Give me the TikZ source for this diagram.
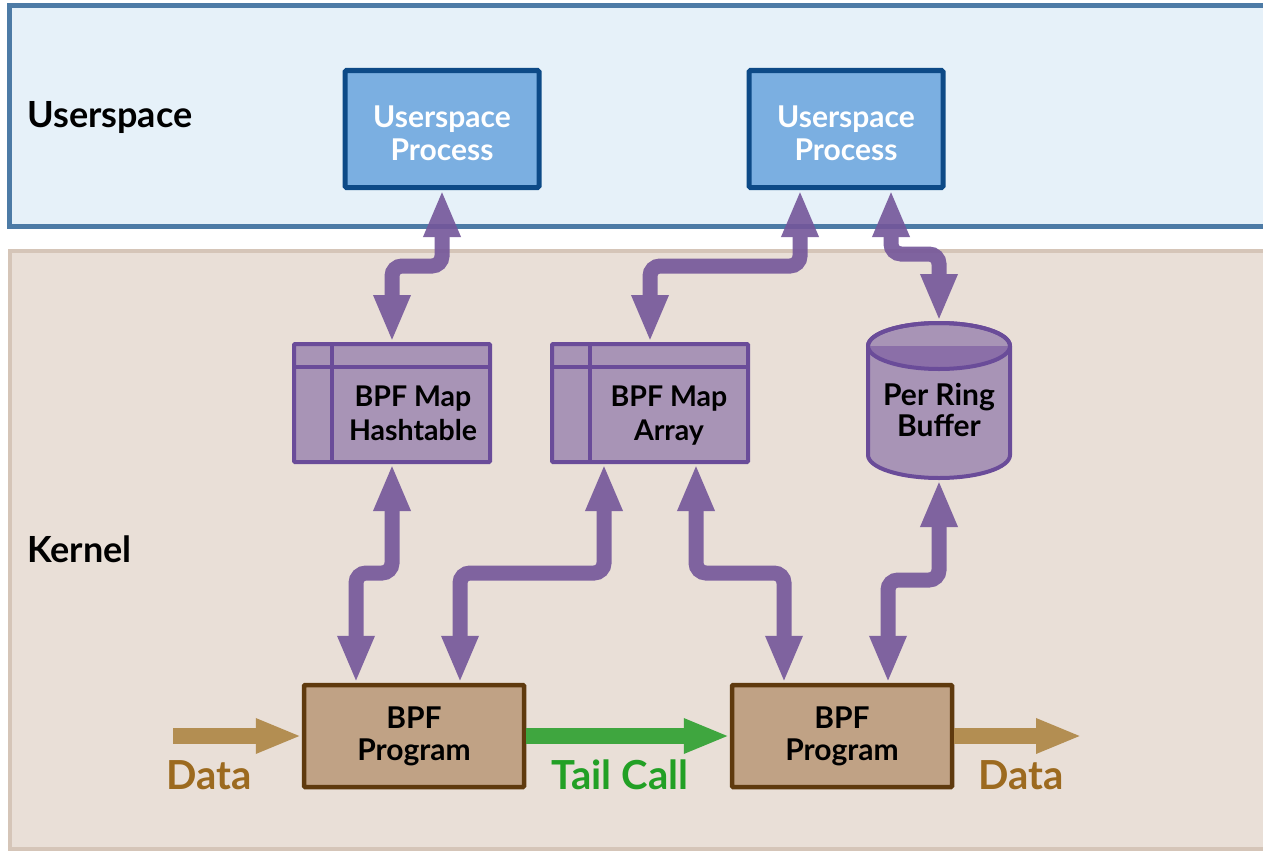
\documentclass[tikz,border=0pt]{standalone}
\usepackage{fontspec}
\setmainfont{Lato}
\usetikzlibrary{arrows.meta}
\definecolor{uspfill}{HTML}{E6F1F9}
\definecolor{uspline}{HTML}{4D7BA6}
\definecolor{kerfill}{HTML}{E9DFD7}
\definecolor{kerline}{HTML}{D5C5B8}
\definecolor{ubfill}{HTML}{7BAFE1}
\definecolor{ubline}{HTML}{0D4A87}
\definecolor{mapfill}{HTML}{A894B6}
\definecolor{mapline}{HTML}{6A4C99}
\definecolor{cyldark}{HTML}{8B6FA8}
\definecolor{parrowc}{HTML}{74569A}
\definecolor{progfill}{HTML}{C0A285}
\definecolor{progline}{HTML}{5F3A0E}
\definecolor{dataarr}{HTML}{B38E52}
\definecolor{datatxt}{HTML}{9C6A1F}
\definecolor{tailarr}{HTML}{3FA63F}
\definecolor{tailtxt}{HTML}{22A025}
\tikzset{
  panelU/.style={fill=uspfill, draw=uspline, line width=5pt},
  panelK/.style={fill=kerfill, draw=kerline, line width=3.5pt},
  paneltext/.style={font=\bfseries\fontsize{36}{40}\selectfont, anchor=base west, inner sep=0pt},
  ubox/.style={fill=ubfill, draw=ubline, line width=5pt, rounded corners=1.5pt,
    minimum width=194pt, minimum height=117pt},
  utext/.style={text=white, align=center, inner sep=0pt,
    font=\bfseries\fontsize{30}{33}\selectfont},
  mapbox/.style={fill=mapfill, draw=mapline, line width=4pt, rounded corners=1pt,
    minimum width=196pt, minimum height=118pt},
  mapsep/.style={draw=mapline, line width=4pt},
  maptext/.style={align=center, font=\bfseries\fontsize{28.5}{34}\selectfont, inner sep=0pt},
  cyltext/.style={align=center, font=\bfseries\fontsize{30}{31}\selectfont, inner sep=0pt},
  progbox/.style={fill=progfill, draw=progline, line width=4.5pt, rounded corners=1pt,
    minimum width=220pt, minimum height=102pt, align=center,
    font=\bfseries\fontsize{30}{32}\selectfont},
  parrow/.style={draw=parrowc, line width=15pt, rounded corners=10pt,
    {Triangle[width=34pt,length=47pt]}-{Triangle[width=34pt,length=47pt]}},
  dataarrow/.style={draw=dataarr, line width=15.5pt, -{Triangle[width=32pt,length=46pt]}},
  tailarrow/.style={draw=tailarr, line width=15.5pt, -{Triangle[width=32pt,length=46pt]}},
  datalbl/.style={text=datatxt, font=\bfseries\fontsize{40}{44}\selectfont, inner sep=0pt},
  taillbl/.style={text=tailtxt, font=\bfseries\fontsize{40}{44}\selectfont, inner sep=0pt},
}
\begin{document}
\begin{tikzpicture}[x=1pt, y=-1pt]
\useasboundingbox (0,0) rectangle (1263,851);
\clip (0,0) rectangle (1263,851);
\fill[white] (0,0) rectangle (1263,851);
% panels
\draw[panelU] (9,6) rectangle (1290,226.5);
\draw[panelK] (10,251) rectangle (1290,849);
\node[paneltext] (lblU) at (27,127) {Userspace};
\node[paneltext] (lblK) at (27,562) {Kernel};
% userspace processes
\node[ubox] (up1) at (442,129) {};
\node[utext] (up1text) at (442,133) {Userspace\\Process};
\node[ubox] (up2) at (846,129) {};
\node[utext] (up2text) at (846,133) {Userspace\\Process};
% maps
\node[mapbox] (ht) at (392,403) {};
\draw[mapsep] ([yshift=-24.7pt,xshift=2pt]ht.north west) -- ([yshift=-24.7pt,xshift=-2pt]ht.north east);
\draw[mapsep] ([xshift=40.3pt,yshift=-2pt]ht.north west) -- ([xshift=40.3pt,yshift=2pt]ht.south west);
\node[maptext] (httext) at (413,413) {BPF Map\\Hashtable};
\node[mapbox] (ar) at (650,403) {};
\draw[mapsep] ([yshift=-24.7pt,xshift=2pt]ar.north west) -- ([yshift=-24.7pt,xshift=-2pt]ar.north east);
\draw[mapsep] ([xshift=40.3pt,yshift=-2pt]ar.north west) -- ([xshift=40.3pt,yshift=2pt]ar.south west);
\node[maptext] (artext) at (669,416) {BPF Map\\Array};
% ring buffer cylinder
\filldraw[fill=mapfill, draw=mapline, line width=4pt] (868,346) -- (868,455)
  arc[start angle=180, end angle=360, x radius=71pt, y radius=23pt] -- (1010,346)
  arc[start angle=0, end angle=180, x radius=71pt, y radius=23pt] -- cycle;
\fill[cyldark] (868,346) arc[start angle=180, end angle=360, x radius=71pt, y radius=23pt] -- cycle;
\draw[mapline, line width=4pt] (939,346) ellipse[x radius=71pt, y radius=23pt];
\coordinate (cyltop) at (939,321);
\coordinate (cylbot) at (939,480);
\node[cyltext] (cyl) at (939,410) {Per Ring\\Buffer};
% programs
\node[progbox] (p1) at (414,736) {BPF\\Program};
\node[progbox] (p2) at (842,736) {BPF\\Program};
% data flow
\coordinate (din) at (173,736);
\coordinate (dout) at (1082,736);
\draw[dataarrow] (din) -- (din -| p1.west);
\draw[tailarrow] (p1.east) -- (p2.west);
\draw[dataarrow] (p2.east) -- (dout);
\node[datalbl] (dl1) at (209,775) {Data};
\node[taillbl] (tl) at (620,775) {Tail Call};
\node[datalbl] (dl2) at (1021,775) {Data};
% map access arrows
\begin{scope}[transparency group, opacity=0.9]
\draw[parrow] (up1.south) -- ++(0,76) -| (ht.north);
\draw[parrow] ([xshift=-46pt]up2.south) -- ++(0,76) -| (ar.north);
\draw[parrow] ([xshift=45pt]up2.south) -- ++(0,64) -| (cyltop);
\draw[parrow] (ht.south) -- ++(0,109) -| ([xshift=-58pt]p1.north);
\draw[parrow] ([xshift=-46pt]ar.south) -- ++(0,109) -| ([xshift=46pt]p1.north);
\draw[parrow] ([xshift=46pt]ar.south) -- ++(0,109) -| ([xshift=-58pt]p2.north);
\draw[parrow] (cylbot) -- ++(0,100) -| ([xshift=46pt]p2.north);
\end{scope}
\end{tikzpicture}
\end{document}
